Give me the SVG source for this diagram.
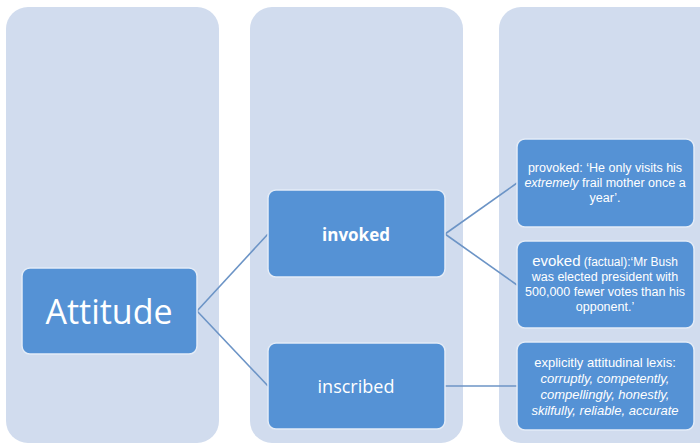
<svg xmlns="http://www.w3.org/2000/svg" width="700" height="447" viewBox="0 0 700 447">
<style>
.col{fill:#d1dcee;}
.box{fill:#5592d5;stroke:#e4ecf7;stroke-width:1.5;}
.t{font-family:"Open Sans","Liberation Sans",sans-serif;fill:#ffffff;text-anchor:middle;}
.s{font-family:"Liberation Sans","Open Sans",sans-serif;fill:#ffffff;text-anchor:middle;}
.c{stroke:#6c94c6;stroke-width:1.6;fill:none;}
</style>
<rect width="700" height="447" fill="#ffffff"/>
<g id="columns">
<rect class="col" x="6" y="7" width="213" height="436" rx="22"/>
<rect class="col" x="250" y="7" width="213" height="436" rx="22"/>
<rect class="col" x="499" y="7" width="230" height="436" rx="22"/>
</g>
<g id="connectors">
<line class="c" x1="197" y1="311" x2="268" y2="234"/>
<line class="c" x1="197" y1="311" x2="268" y2="386"/>
<line class="c" x1="445" y1="234" x2="517" y2="183"/>
<line class="c" x1="445" y1="234" x2="517" y2="285"/>
<line class="c" x1="445" y1="386" x2="517" y2="386"/>
</g>
<g id="attitude">
<rect class="box" x="22" y="268" width="175" height="86" rx="8"/>
<text class="t" x="109" y="324" font-size="34">Attitude</text>
</g>
<g id="invoked">
<rect class="box" x="268" y="190" width="177" height="87" rx="8"/>
<text class="t" x="356" y="241" font-size="17" font-weight="bold">invoked</text>
</g>
<g id="inscribed">
<rect class="box" x="268" y="343" width="177" height="86" rx="8"/>
<text class="t" x="356" y="393" font-size="18">inscribed</text>
</g>
<g id="provoked">
<rect class="box" x="517" y="139" width="177" height="88" rx="8"/>
<text class="s" x="605" y="172" font-size="12.5">provoked: ‘He only visits his</text>
<text class="s" x="605" y="187" font-size="12.5"><tspan font-style="italic">extremely</tspan> frail mother once a</text>
<text class="s" x="605" y="202" font-size="12.5">year’.</text>
</g>
<g id="evoked">
<rect class="box" x="517" y="241" width="177" height="87" rx="8"/>
<text class="s" x="605" y="266" font-size="12"><tspan font-size="15">evoked</tspan> (factual):‘Mr Bush</text>
<text class="s" x="605" y="281" font-size="12.5">was elected president with</text>
<text class="s" x="605" y="296" font-size="12.5">500,000 fewer votes than his</text>
<text class="s" x="605" y="311" font-size="12.5">opponent.’</text>
</g>
<g id="explicit">
<rect class="box" x="517" y="342" width="177" height="88" rx="8"/>
<text class="s" x="605" y="367" font-size="13">explicitly attitudinal lexis:</text>
<text class="s" x="605" y="383" font-size="13" font-style="italic">corruptly, competently,</text>
<text class="s" x="605" y="399" font-size="13" font-style="italic">compellingly, honestly,</text>
<text class="s" x="605" y="415" font-size="13" font-style="italic">skilfully, reliable, accurate</text>
</g>
</svg>
